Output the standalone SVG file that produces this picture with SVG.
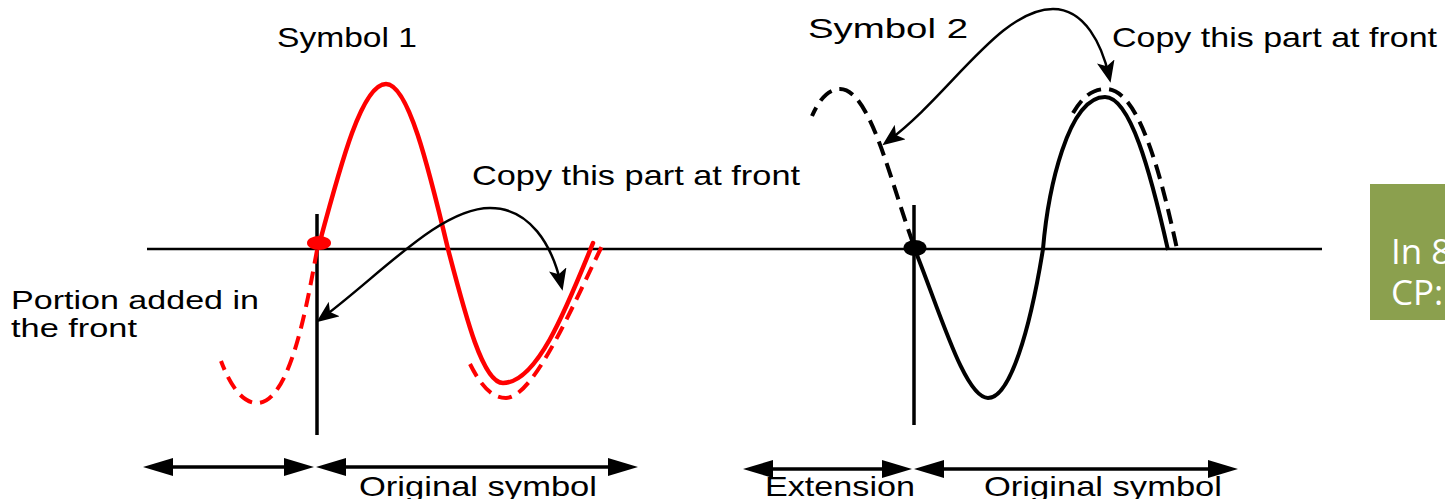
<svg xmlns="http://www.w3.org/2000/svg" width="1445" height="499" viewBox="0 0 1445 499">
<style>
.t{font-family:"Liberation Sans",Arial,sans-serif;font-size:28px;fill:#000}
.s{font-size:25px}
.axis{stroke:#000;stroke-width:2.5;fill:none}
.vline{stroke:#000;stroke-width:3.5}
.red{stroke:#f00;stroke-width:4.5;fill:none;stroke-linecap:round;stroke-linejoin:round}
.redd{stroke:#f00;stroke-width:4;fill:none;stroke-dasharray:14 8}
.blk{stroke:#000;stroke-width:4;fill:none;stroke-linejoin:round}
.blkd{stroke:#000;stroke-width:4;fill:none;stroke-dasharray:15 8}
.arc{stroke:#000;stroke-width:2.5;fill:none;marker-start:url(#ah);marker-end:url(#ah)}
.dim{stroke:#000;stroke-width:3.5;marker-start:url(#dh);marker-end:url(#dh)}
.box{fill:#8BA04E}
.bt{font-family:"Open Sans","Noto Sans",sans-serif;font-size:35px;fill:#fff}
</style>
<defs>
<marker id="ah" viewBox="0 0 22 18" refX="15" refY="9" markerWidth="22" markerHeight="18" markerUnits="userSpaceOnUse" orient="auto-start-reverse"><path d="M0,0 L22,9 L0,18 L5,9 z" fill="#000"/></marker>
<marker id="dh" viewBox="0 0 30 18" refX="22" refY="9" markerWidth="30" markerHeight="18" markerUnits="userSpaceOnUse" orient="auto-start-reverse"><path d="M0,0 L30,9 L0,18 z" fill="#000"/></marker>
</defs>
<g id="axes">
<line class="axis" x1="147" y1="249" x2="1322" y2="249"/>
<line class="vline" x1="317" y1="214" x2="317" y2="435"/>
<line class="vline" x1="914" y1="205" x2="914" y2="425"/>
</g>
<g id="symbol1">
<path class="red" d="M319,245 C341,163 362,84 386,84 C408,84 428,165 448,249 C466,318 483,383 503,383 C536,383 564,315 593,243"/>
<path class="redd" d="M317,250 C307,305 290,403 257,403 C242,403 230,385 221,361"/>
<path class="redd" d="M470,364 C481,386 492,398 506,398 C535,397 575,300 604,242"/>
<ellipse cx="319" cy="243" rx="12" ry="7" fill="#f00"/>
</g>
<g id="symbol2">
<path class="blk" d="M915,250 C940,312 965,398 988,398 C1010,398 1030,330 1043,249 C1048,190 1068,97 1105,97 C1130,97 1150,170 1168,250"/>
<path class="blkd" d="M1073,113 C1083,96 1093,89 1106,89 C1138,89 1160,170 1177,249"/>
<path class="blkd" d="M913,243 C890,180 870,89 840,89 C828,89 819,100 812,116"/>
<ellipse cx="915" cy="248" rx="11.5" ry="8" fill="#000"/>
</g>
<g id="connectors">
<path class="arc" d="M322,318 C380,275 440,208 490,208 C530,208 552,245 561,284"/>
<path class="arc" d="M888,141 C950,95 1000,9 1053,9 C1085,9 1102,45 1109,76"/>
<line class="dim" x1="151" y1="467" x2="306" y2="467"/>
<line class="dim" x1="324" y1="467" x2="630" y2="467"/>
<line class="dim" x1="751" y1="469" x2="904" y2="469"/>
<line class="dim" x1="922" y1="469" x2="1230" y2="469"/>
</g>
<g id="labels">
<text class="t" x="277" y="47" textLength="140" lengthAdjust="spacingAndGlyphs">Symbol 1</text>
<text class="t" x="808" y="38" textLength="160" lengthAdjust="spacingAndGlyphs">Symbol 2</text>
<text class="t" x="1112" y="47" textLength="325" lengthAdjust="spacingAndGlyphs">Copy this part at front</text>
<text class="t" x="472" y="185" textLength="328" lengthAdjust="spacingAndGlyphs">Copy this part at front</text>
<text class="t s" x="11" y="309" textLength="248" lengthAdjust="spacingAndGlyphs">Portion added in</text>
<text class="t s" x="11" y="337" textLength="126" lengthAdjust="spacingAndGlyphs">the front</text>
<text class="t" x="359" y="496" textLength="238" lengthAdjust="spacingAndGlyphs">Original symbol</text>
<text class="t" x="765" y="496" textLength="150" lengthAdjust="spacingAndGlyphs">Extension</text>
<text class="t" x="984" y="496" textLength="238" lengthAdjust="spacingAndGlyphs">Original symbol</text>
</g>
<g id="note-box">
<rect class="box" x="1370" y="184" width="90" height="136"/>
<text class="bt" x="1391" y="264">In 8<tspan x="1391" dy="41">CP:</tspan></text>
</g>
</svg>
